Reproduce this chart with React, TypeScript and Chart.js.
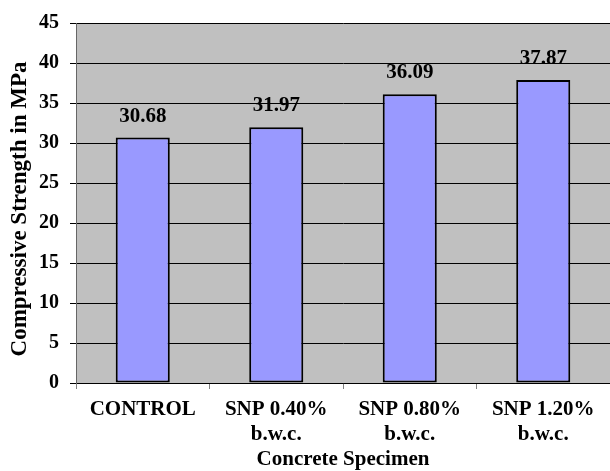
import React, { useEffect, useRef } from "react";
import { Chart, registerables } from "chart.js";

Chart.register(...registerables);

const categories: (string | string[])[] = [
  "CONTROL",
  ["SNP 0.40%", "b.w.c."],
  ["SNP 0.80%", "b.w.c."],
  ["SNP 1.20%", "b.w.c."],
];
const strengths: number[] = [30.68, 31.97, 36.09, 37.87];
const yTitle = "Compressive Strength in MPa";
const xTitle = "Concrete Specimen";

const FONT = "'Liberation Serif', 'Times New Roman', serif";

const plotBg = {
  id: "plotBg",
  beforeDraw(chart: any) {
    const { ctx, chartArea } = chart;
    ctx.save();
    ctx.fillStyle = "#C0C0C0";
    ctx.fillRect(chartArea.left, chartArea.top, chartArea.right - chartArea.left, chartArea.bottom - chartArea.top);
    ctx.restore();
  },
};

const valueLabels = {
  id: "valueLabels",
  afterDatasetsDraw(chart: any) {
    const { ctx } = chart;
    const meta = chart.getDatasetMeta(0);
    const data = chart.data.datasets[0].data;
    ctx.save();
    ctx.fillStyle = "#000";
    ctx.font = `bold 21px ${FONT}`;
    ctx.textAlign = "center";
    ctx.textBaseline = "alphabetic";
    meta.data.forEach((bar: any, i: number) => {
      ctx.fillText(Number(data[i]).toFixed(2), bar.x, bar.y - 16);
    });
    ctx.restore();
  },
};

const axisTitles = {
  id: "axisTitles",
  afterDraw(chart: any) {
    const { ctx, chartArea } = chart;
    ctx.save();
    ctx.fillStyle = "#000";
    ctx.textAlign = "center";
    ctx.textBaseline = "middle";
    ctx.font = `bold 21px ${FONT}`;
    ctx.fillText(xTitle, (chartArea.left + chartArea.right) / 2, 460);
    ctx.translate(20, (chartArea.top + chartArea.bottom) / 2 + 6);
    ctx.rotate(-Math.PI / 2);
    ctx.font = `bold 23px ${FONT}`;
    ctx.fillText(yTitle, 0, 0);
    ctx.restore();
  },
};

export default function App() {
  const ref = useRef<HTMLCanvasElement>(null);
  useEffect(() => {
    if (!ref.current) return;
    const chart = new Chart(ref.current, {
      type: "bar",
      data: {
        labels: categories,
        datasets: [
          {
            data: strengths,
            backgroundColor: "#9999FF",
            borderColor: "#000000",
            borderWidth: 2,
            borderSkipped: false,
            categoryPercentage: 1,
            barPercentage: 0.405,
          },
        ],
      },
      options: {
        responsive: true,
        maintainAspectRatio: false,
        animation: false,
        layout: { padding: { top: 20, right: 0, left: 0, bottom: 0 } },
        plugins: { legend: { display: false }, tooltip: { enabled: false } },
        scales: {
          x: {
            afterFit: (s: any) => {
              s.height = 88;
            },
            grid: {
              drawOnChartArea: false,
              drawTicks: true,
              tickLength: 6,
              color: "#808080",
              offset: true,
            },
            border: { display: true, color: "#000", width: 1 },
            ticks: {
              color: "#000",
              font: { family: FONT, size: 21, weight: "bold", lineHeight: 1.2 },
              padding: 8,
              maxRotation: 0,
              autoSkip: false,
            },
          },
          y: {
            min: 0,
            max: 45,
            afterFit: (s: any) => {
              s.width = 76;
            },
            grid: { color: "#000", lineWidth: 1, tickLength: 6, drawTicks: true },
            border: { display: true, color: "#666", width: 1 },
            ticks: {
              stepSize: 5,
              color: "#000",
              font: { family: FONT, size: 20, weight: "bold" },
              padding: 11,
            },
          },
        },
      },
      plugins: [plotBg, valueLabels, axisTitles],
    });
    return () => chart.destroy();
  }, []);
  return (
    <div style={{ position: "absolute", left: 0, top: 0, width: 610, height: 471 }}>
      <canvas ref={ref} />
    </div>
  );
}
